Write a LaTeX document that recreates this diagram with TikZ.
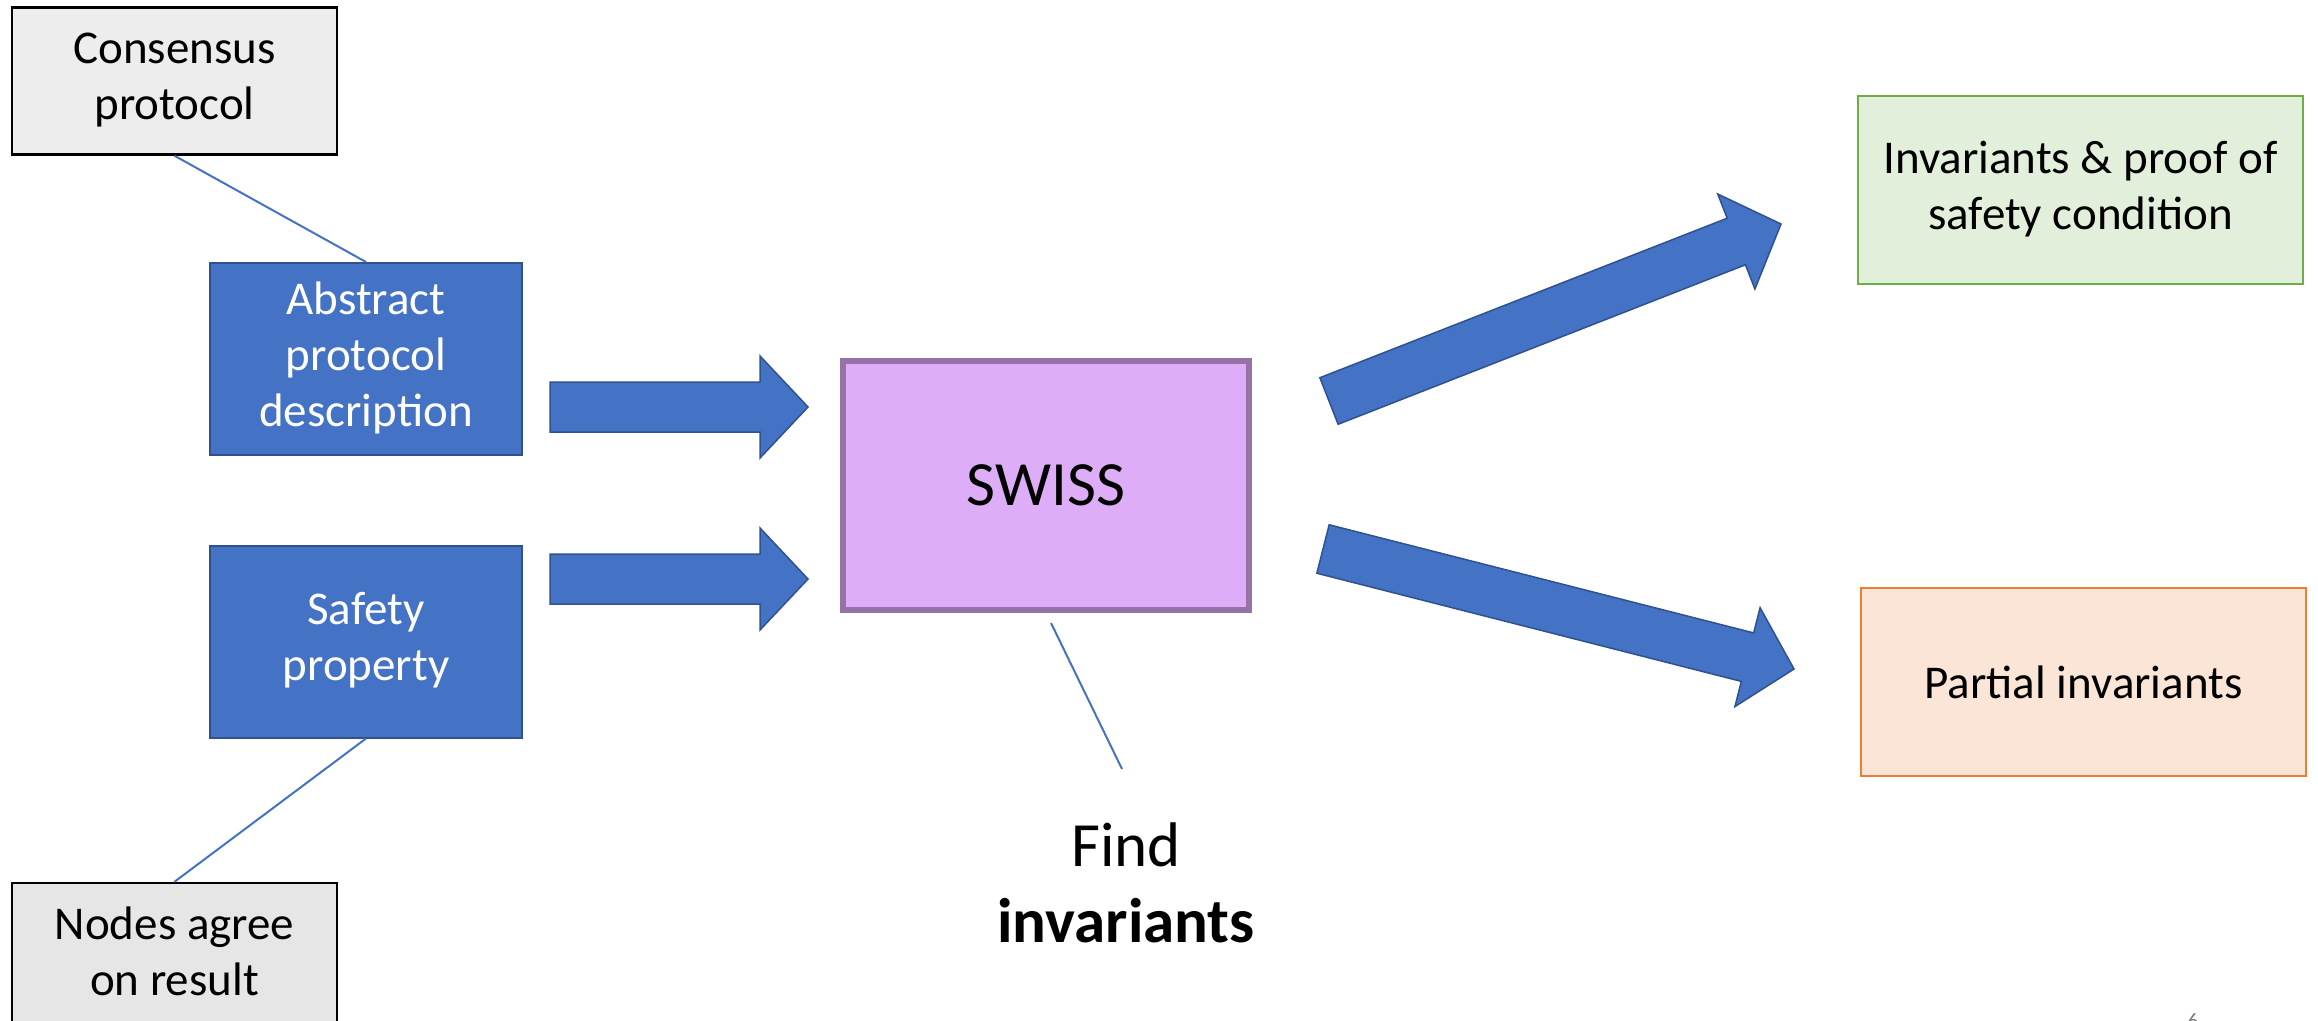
\documentclass[tikz,border=0pt]{standalone}
\usepackage{fontspec}
\setmainfont{Carlito}
\usetikzlibrary{calc}
\definecolor{bluefill}{HTML}{4472C4}
\definecolor{blueedge}{HTML}{2F528F}
\definecolor{greyA}{HTML}{EDEDED}
\definecolor{greyB}{HTML}{E6E6E6}
\definecolor{swissfill}{HTML}{DDADF8}
\definecolor{swissedge}{HTML}{9673A6}
\definecolor{greenfill}{HTML}{E2EFDA}
\definecolor{greenedge}{HTML}{70AD47}
\definecolor{orangefill}{HTML}{FBE5D6}
\definecolor{orangeedge}{HTML}{ED7D31}
\newcommand{\blockarr}[2]{%
  \coordinate (ba-h) at ($(#2)!48pt!(#1)$);
  \draw[barrow] ($(#1)!25pt!90:(#2)$) -- ($(ba-h)!25pt!90:(#2)$) -- ($(ba-h)!51pt!90:(#2)$) -- (#2)
    -- ($(ba-h)!51pt!-90:(#2)$) -- ($(ba-h)!25pt!-90:(#2)$) -- ($(#1)!25pt!-90:(#2)$) -- cycle;}
\begin{document}
\begin{tikzpicture}[x=1pt,y=-1pt,
  txt/.style={font=\fontsize{47}{56}\selectfont, align=center, inner sep=0pt},
  lift/.style={execute at begin node={\rule{0pt}{40pt}}, execute at end node={\rule[-10pt]{0pt}{10pt}}},
  greybox/.style={txt, lift, draw=black, line width=2.5pt, minimum width=325pt, minimum height=147pt},
  bluebox/.style={txt, lift, draw=blueedge, fill=bluefill, line width=2pt, text=white, minimum width=312pt, minimum height=192pt},
  swissbox/.style={font=\fontsize{63}{76}\selectfont, draw=swissedge, fill=swissfill, line width=6pt, minimum width=406pt, minimum height=249pt, inner sep=0pt},
  greenbox/.style={txt, lift, draw=greenedge, fill=greenfill, line width=2.5pt, minimum width=445pt, minimum height=188pt},
  orangebox/.style={txt, draw=orangeedge, fill=orangefill, line width=2.5pt, minimum width=445pt, minimum height=188pt},
  findtxt/.style={font=\fontsize{63}{76}\selectfont, align=center, inner sep=0pt},
  conn/.style={draw=bluefill, line width=2pt},
  barrow/.style={draw=blueedge, fill=bluefill, line width=1.5pt, line join=miter}
]
\useasboundingbox (0,0) rectangle (2318,1020);
\fill[white] (0,0) rectangle (2318,1020);

\node[greybox, fill=greyA] (cons) at (174.5,81) {Consensus\\protocol};
\node[bluebox] (abs) at (366,359) {Abstract\\protocol\\description};
\node[bluebox] (safe) at (366,641.5) {Safety\\property};
\node[greybox, fill=greyB] (nodes) at (174.5,956.5) {Nodes agree\\on result};
\node[swissbox] (swiss) at (1046,485) {SWISS};
\node[greenbox] (inv) at (2080.5,190) {Invariants \& proof of\\safety condition};
\node[orangebox] (part) at (2083.5,682) {Partial invariants};
\node[findtxt] (find) at (1126,883) {Find\\\textbf{invariants}};
\node[text=gray, font=\fontsize{22}{26}\selectfont, anchor=north, inner sep=0pt] (pg) at (2193,1013) {6};

\draw[conn] (cons.south) -- (abs.north);
\draw[conn] (safe.south) -- (nodes.north);
\coordinate (sl1) at (1051,623);
\coordinate (sl2) at (1122,769);
\draw[conn] (sl1) -- (sl2);

\coordinate (a1t) at (550,407);
\coordinate (a1p) at (808,407);
\coordinate (a2t) at (550,579);
\coordinate (a2p) at (808,579);
\coordinate (a3t) at (1329,401);
\coordinate (a3p) at (1781,224);
\coordinate (a4t) at (1323,549);
\coordinate (a4p) at (1794,669);
\blockarr{a1t}{a1p}
\blockarr{a2t}{a2p}
\blockarr{a3t}{a3p}
\blockarr{a4t}{a4p}
\end{tikzpicture}
\end{document}
